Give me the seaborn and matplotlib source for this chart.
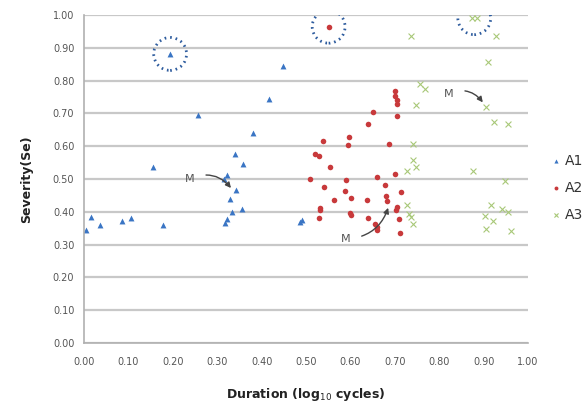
import matplotlib
matplotlib.use("Agg")
import matplotlib.pyplot as plt
import seaborn as sns
import pandas as pd

# ---- data ----
a1_x = [0.005, 0.016, 0.036, 0.085, 0.106, 0.177, 0.155, 0.194, 0.256, 0.315, 0.322, 0.329,
        0.342, 0.333, 0.355, 0.323, 0.318, 0.339, 0.358, 0.380, 0.417, 0.449, 0.486, 0.490]
a1_y = [0.345, 0.384, 0.359, 0.372, 0.381, 0.359, 0.536, 0.881, 0.695, 0.499, 0.512, 0.439,
        0.466, 0.399, 0.409, 0.377, 0.365, 0.575, 0.547, 0.640, 0.743, 0.845, 0.370, 0.376]

a2_x = [0.551, 0.700, 0.701, 0.706, 0.705, 0.651, 0.705, 0.639, 0.596, 0.538, 0.594, 0.688,
        0.520, 0.529, 0.554, 0.700, 0.661, 0.508, 0.589, 0.540, 0.587, 0.679, 0.714, 0.562,
        0.602, 0.637, 0.680, 0.682, 0.532, 0.531, 0.599, 0.602, 0.529, 0.639, 0.703, 0.710,
        0.655, 0.659, 0.660, 0.712, 0.706]
a2_y = [0.964, 0.767, 0.754, 0.741, 0.727, 0.703, 0.693, 0.668, 0.629, 0.616, 0.603, 0.608,
        0.577, 0.569, 0.536, 0.514, 0.505, 0.500, 0.497, 0.474, 0.464, 0.481, 0.459, 0.436,
        0.442, 0.436, 0.448, 0.434, 0.411, 0.404, 0.397, 0.389, 0.382, 0.382, 0.405, 0.379,
        0.364, 0.354, 0.343, 0.336, 0.415]

a3_x = [0.873, 0.886, 0.929, 0.736, 0.910, 0.757, 0.767, 0.748, 0.906, 0.923, 0.956, 0.741,
        0.742, 0.748, 0.727, 0.875, 0.948, 0.727, 0.731, 0.736, 0.742, 0.916, 0.941, 0.956,
        0.904, 0.921, 0.906, 0.961]
a3_y = [0.990, 0.990, 0.936, 0.936, 0.855, 0.789, 0.774, 0.726, 0.720, 0.673, 0.666, 0.608,
        0.558, 0.537, 0.525, 0.523, 0.493, 0.420, 0.394, 0.385, 0.364, 0.421, 0.407, 0.400,
        0.386, 0.372, 0.347, 0.342]

# highlighted (dotted circle) centres
circle_x = [0.194, 0.551, 0.879]
circle_y = [0.881, 0.964, 0.990]

# "M" annotations: text position and arrow target
m_text_x = [0.238, 0.589, 0.821]
m_text_y = [0.499, 0.317, 0.760]
m_tip_x = [0.333, 0.686, 0.900]
m_tip_y = [0.469, 0.416, 0.730]
m_rad = [-0.4, 0.35, -0.4]

x_ticks = [i / 10 for i in range(11)]
y_ticks = [i / 10 for i in range(11)]

df = pd.DataFrame({
    "x": a1_x + a2_x + a3_x,
    "y": a1_y + a2_y + a3_y,
    "grp": ["A1"] * len(a1_x) + ["A2"] * len(a2_x) + ["A3"] * len(a3_x),
})

sns.set_theme(style="white")
plt.rcParams["font.family"] = ["DejaVu Sans"]

fig = plt.figure(figsize=(5.85, 4.03), dpi=100)
ax = fig.add_axes([0.1436, 0.149, 0.759, 0.814])

palette = {"A1": "#3A75C4", "A2": "#C8393B", "A3": "#A8C878"}

for g, m, s in [("A1", "^", 18), ("A2", "o", 16), ("A3", "x", 18)]:
    sub = df[df.grp == g]
    kw = dict(linewidths=0.8) if m == "x" else dict(linewidth=0)
    sns.scatterplot(data=sub, x="x", y="y", ax=ax, color=palette[g], marker=m,
                    s=s, label=g, **kw)

# dotted circles
ax.scatter(circle_x, circle_y, s=560, facecolors="none", edgecolors="#2E5C9E",
           linewidths=2.0, linestyles=(0, (0.6, 1.4)), zorder=5)

# M annotations
for tx, ty, hx, hy, r in zip(m_text_x, m_text_y, m_tip_x, m_tip_y, m_rad):
    ax.annotate("M", xy=(hx, hy), xytext=(tx, ty), fontsize=8, color="#555555",
                ha="center", va="center",
                arrowprops=dict(arrowstyle="-|>", color="#444444", lw=1.0,
                                mutation_scale=8, shrinkA=6, shrinkB=1,
                                connectionstyle=f"arc3,rad={r}"))

ax.set_xlim(0, 1.0)
ax.set_ylim(0, 1.0)
ax.set_xticks(x_ticks)
ax.set_yticks(y_ticks)
ax.set_xticklabels([f"{v:.2f}" for v in x_ticks])
ax.set_yticklabels([f"{v:.2f}" for v in y_ticks])
ax.tick_params(axis="both", labelsize=7, colors="#8a8a8a", labelcolor="#555555",
               length=4, width=1, direction="out", pad=3)
ax.tick_params(axis="x", pad=6)

ax.yaxis.grid(True, color="#c8c8c8", linewidth=1.6)
ax.xaxis.grid(False)
ax.set_axisbelow(True)
for sp in ["top", "right"]:
    ax.spines[sp].set_visible(False)
for sp in ["left", "bottom"]:
    ax.spines[sp].set_color("#b0b0b0")
    ax.spines[sp].set_linewidth(1.2)

ax.set_xlabel("Duration (log$_{10}$ cycles)", fontsize=9, fontweight="bold",
              color="#222222", labelpad=14)
ax.set_ylabel("Severity(Se)", fontsize=9, fontweight="bold", color="#222222", labelpad=14)

leg = ax.legend(loc="center left", bbox_to_anchor=(1.02, 0.473), frameon=False,
                fontsize=10, handletextpad=0.1, labelspacing=0.95, markerscale=0.7,
                handlelength=1.0)
for t in leg.get_texts():
    t.set_color("#333333")

fig.savefig("out.png", dpi=100)
